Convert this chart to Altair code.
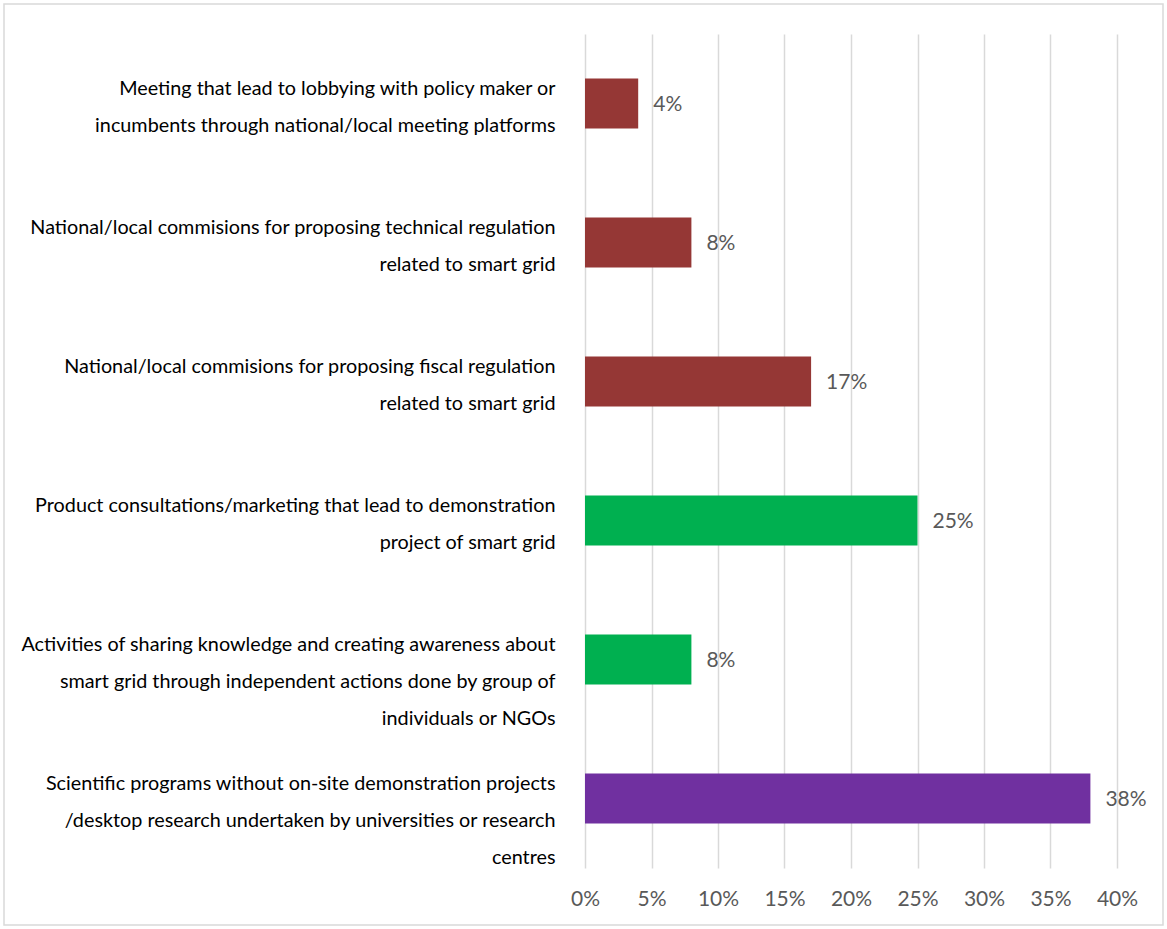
import altair as alt
import pandas as pd

categories = [
    "Meeting that lead to lobbying with policy maker or|incumbents through national/local meeting platforms",
    "National/local commisions for proposing technical regulation|related to smart grid",
    "National/local commisions for proposing fiscal regulation|related to smart grid",
    "Product consultations/marketing that lead to demonstration|project of smart grid",
    "Activities of sharing knowledge and creating awareness about|smart grid through independent actions done by group of|individuals or NGOs",
    "Scientific programs without on-site demonstration projects|/desktop research undertaken by universities or research|centres",
]
values = [0.04, 0.08, 0.17, 0.25, 0.08, 0.38]
groups = ["policy", "policy", "policy", "market", "market", "science"]
group_names = ["policy", "market", "science"]
group_colors = ["#953735", "#00B050", "#7030A0"]
tick_values = [0, 0.05, 0.10, 0.15, 0.20, 0.25, 0.30, 0.35, 0.40]

df = pd.DataFrame({"cat": categories, "val": values, "grp": groups})

FONT = "Lato"

x = alt.X(
    "val:Q",
    scale=alt.Scale(domain=[0, 0.4], nice=False),
    axis=alt.Axis(
        values=tick_values,
        format=".0%",
        title=None,
        domain=False,
        ticks=False,
        grid=True,
        gridColor="#d9d9d9",
        gridWidth=1.5,
        labelFontSize=21,
        labelColor="#595959",
        labelFont=FONT,
        labelPadding=20,
        labelFlush=False,
    ),
)
y = alt.Y(
    "cat:N",
    sort=None,
    axis=alt.Axis(
        title=None,
        domain=False,
        ticks=False,
        labelExpr="split(datum.label, '|')",
        labelFontSize=19.8,
        labelColor="#000000",
        labelFont=FONT,
        labelLineHeight=37,
        labelBaseline="top",
        labelOffset=-25,
        labelPadding=30,
        labelLimit=1000,
    ),
)

bars = alt.Chart(df).mark_bar(size=50).encode(
    x=x,
    y=y,
    color=alt.Color("grp:N", scale=alt.Scale(domain=group_names, range=group_colors), legend=None),
)

labels = alt.Chart(df).mark_text(
    align="left", baseline="middle", dx=15, dy=1, fontSize=21, color="#595959", font=FONT
).encode(
    x="val:Q",
    y=alt.Y("cat:N", sort=None),
    text=alt.Text("val:Q", format=".0%"),
)

border = alt.Chart(pd.DataFrame({"a": [0]})).mark_rect(
    fillOpacity=0, stroke="#d9d9d9", strokeWidth=1.5
).encode(
    x=alt.value(-581), x2=alt.value(578), y=alt.value(-30), y2=alt.value(891)
)

chart = alt.layer(border, bars, labels).properties(
    width=532,
    height=834,
    autosize=alt.AutoSizeParams(type="none"),
    padding={"left": 585, "top": 34, "right": 50, "bottom": 61},
    background="white",
).configure_view(stroke=None)

chart.save("out.html", embed_options={"renderer": "svg", "actions": False})
